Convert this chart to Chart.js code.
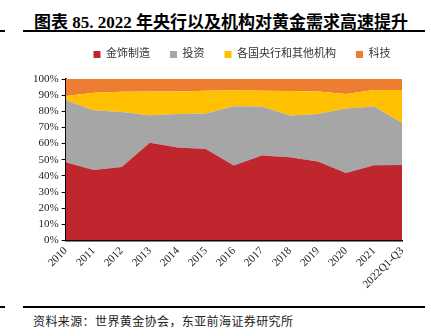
<!DOCTYPE html>
<html>
<head>
<meta charset="utf-8">
<script src="https://cdn.jsdelivr.net/npm/chart.js@4.4.0/dist/chart.umd.min.js"></script>
<style>
    html, body { margin: 0; padding: 0; background: #fff; overflow: hidden; width: 431px; height: 336px; }
    .titulo { position: absolute; left: 34px; top: 8px; font: bold 17px "Liberation Serif", "Noto Sans CJK SC", serif; color: #000; white-space: nowrap; }
    .linha { position: absolute; height: 2px; background: #000; }
    .fonte { position: absolute; left: 33px; top: 312px; font: 12px "Liberation Serif", "Noto Sans CJK SC", serif; color: #222; letter-spacing: 0.4px; white-space: nowrap; }
    #box { position: absolute; left: 0; top: 0; width: 483px; height: 300px; }
</style>
</head>
<body>

<div class="titulo">图表 85. 2022 年央行以及机构对黄金需求高速提升</div>
<div class="linha" style="left:0; width:5px; top:30px;"></div>
<div class="linha" style="left:23px; width:402px; top:30px;"></div>

<div id="box"><canvas id="ChartOuro"></canvas></div>

<div class="linha" style="left:0; width:5px; top:306px; height:1.5px;"></div>
<div class="linha" style="left:23px; width:402px; top:306px; height:1.5px;"></div>
<div class="fonte">资料来源：世界黄金协会，东亚前海证券研究所</div>

<script>

/// DADOS (% da demanda total)

const anos = ['2010', '2011', '2012', '2013', '2014', '2015', '2016', '2017', '2018', '2019', '2020', '2021', '2022Q1-Q3'];

const joias = [48.4, 43.7, 45.5, 60.5, 57.6, 56.7, 46.4, 52.6, 51.6, 48.9, 41.8, 46.6, 46.8];
const investimento = [38.4, 37.0, 34.0, 17.1, 20.7, 22.0, 36.8, 30.4, 25.8, 29.4, 40.0, 36.4, 26.1];
const bancos_centrais = [2.6, 10.8, 12.6, 14.7, 14.0, 14.0, 9.8, 9.7, 15.1, 14.0, 8.9, 10.2, 20.3];
const tecnologia = [10.6, 8.5, 7.9, 7.7, 7.7, 7.3, 7.0, 7.3, 7.5, 7.7, 9.3, 6.8, 6.8];

const fonte_serif = '"Liberation Serif", "Noto Sans CJK SC", serif';

// legenda: mais espaço embaixo e deslocada para a direita
const ajusteLegenda = {
    id: 'ajusteLegenda',
    beforeInit: function (chart) {
        const fitOriginal = chart.legend.fit;
        chart.legend.fit = function () {
            fitOriginal.bind(chart.legend)();
            this.height += 9;
        };
    },
    afterLayout: function (chart) {
        chart.legend.left += 26;
        chart.legend.right += 26;
    }
};

const ctx = document.getElementById('ChartOuro');

new Chart(ctx, {
    type: 'line',
    data: {
        labels: anos,
        datasets: [
            {
                label: '金饰制造',
                data: joias,
                backgroundColor: 'rgb(192, 38, 45)',
                borderWidth: 0,
                fill: 'origin'
            },
            {
                label: '投资',
                data: investimento,
                backgroundColor: 'rgb(166, 166, 166)',
                borderWidth: 0,
                fill: '-1'
            },
            {
                label: '各国央行和其他机构',
                data: bancos_centrais,
                backgroundColor: 'rgb(255, 192, 0)',
                borderWidth: 0,
                fill: '-1'
            },
            {
                label: '科技',
                data: tecnologia,
                backgroundColor: 'rgb(237, 125, 49)',
                borderWidth: 0,
                fill: '-1'
            }
        ]
    },
    plugins: [ajusteLegenda],
    options: {
        responsive: true,
        maintainAspectRatio: false,
        animation: false,
        elements: {
            point: { radius: 0, hoverRadius: 0 },
            line: { tension: 0 }
        },
        layout: {
            padding: { top: 29, left: 30, right: 81, bottom: 5 }
        },
        plugins: {
            legend: {
                display: true,
                position: 'top',
                labels: {
                    boxWidth: 7,
                    boxHeight: 7,
                    padding: 20,
                    color: '#333',
                    font: { family: fonte_serif, size: 11 }
                }
            },
            tooltip: { enabled: false }
        },
        scales: {
            x: {
                offset: false,
                grid: { display: false, drawTicks: false },
                border: { display: true, color: '#000', width: 1.5 },
                ticks: {
                    color: '#222',
                    maxRotation: 45,
                    minRotation: 45,
                    autoSkip: false,
                    padding: 4,
                    font: { family: fonte_serif, size: 11 }
                }
            },
            y: {
                stacked: true,
                min: 0,
                max: 100,
                grid: { drawOnChartArea: false, tickLength: 4, color: '#000' },
                border: { display: true, color: '#000', width: 1.5 },
                ticks: {
                    stepSize: 10,
                    autoSkip: false,
                    color: '#222',
                    padding: 3,
                    font: { family: fonte_serif, size: 11 },
                    callback: function (v) { return v + '%'; }
                }
            }
        }
    }
});

</script>
</body>
</html>
